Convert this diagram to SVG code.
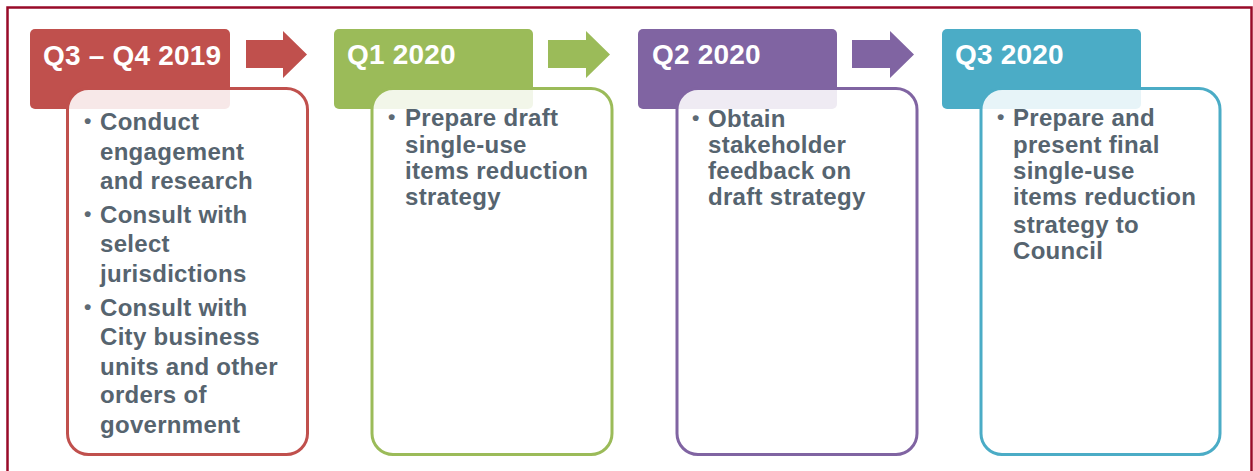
<svg xmlns="http://www.w3.org/2000/svg" width="1253" height="471" viewBox="0 0 1253 471">
<style>
.hd{font-family:"Liberation Sans",Arial,sans-serif;font-weight:bold;font-size:28px;fill:#ffffff;letter-spacing:0.2px}
.tx{font-family:"Liberation Sans",Arial,sans-serif;font-weight:bold;font-size:24px;fill:#56646f;letter-spacing:0.3px}
.bu{font-family:"Liberation Sans",Arial,sans-serif;font-weight:bold;font-size:21px;fill:#5e6b75}
.card{fill:#ffffff;fill-opacity:0.87;stroke-width:3}
</style>
<rect x="0" y="0" width="1253" height="471" fill="#ffffff"/>
<rect x="7.5" y="7.5" width="1244" height="480" fill="none" stroke="#980a28" stroke-width="2.5"/>
<g id="connectors">
<polygon points="246,40 283,40 283,31 307,54.5 283,78 283,68 246,68" fill="#c0504d"/>
<polygon points="548,40 586,40 586,31 610,54.5 586,78 586,68 548,68" fill="#9bbb59"/>
<polygon points="852,40 890,40 890,31 914,54.5 890,78 890,68 852,68" fill="#8064a2"/>
</g>
<g id="node1">
<rect x="30" y="29" width="200" height="80" rx="5" fill="#c0504d"/>
<text class="hd" x="43" y="65">Q3 – Q4 2019</text>
<rect class="card" x="67.5" y="88.5" width="240" height="366" rx="21" stroke="#c0504d"/>
<text class="tx" x="100" y="130">Conduct</text>
<text class="tx" x="100" y="160">engagement</text>
<text class="tx" x="100" y="189">and research</text>
<text class="tx" x="100" y="223">Consult with</text>
<text class="tx" x="100" y="252">select</text>
<text class="tx" x="100" y="282">jurisdictions</text>
<text class="tx" x="100" y="316">Consult with</text>
<text class="tx" x="100" y="345">City business</text>
<text class="tx" x="100" y="375">units and other</text>
<text class="tx" x="100" y="403">orders of</text>
<text class="tx" x="100" y="433">government</text>
<text class="bu" x="84" y="128">•</text>
<text class="bu" x="84" y="221">•</text>
<text class="bu" x="84" y="314">•</text>
</g>
<g id="node2">
<rect x="334" y="29" width="199" height="80" rx="5" fill="#9bbb59"/>
<text class="hd" x="347" y="64">Q1 2020</text>
<rect class="card" x="372" y="88.5" width="240" height="366" rx="21" stroke="#9bbb59"/>
<text class="bu" x="388" y="124">•</text>
<text class="tx" x="405" y="126">Prepare draft</text>
<text class="tx" x="405" y="153">single-use</text>
<text class="tx" x="405" y="179">items reduction</text>
<text class="tx" x="405" y="205">strategy</text>
</g>
<g id="node3">
<rect x="638" y="29" width="199" height="80" rx="5" fill="#8064a2"/>
<text class="hd" x="652" y="64">Q2 2020</text>
<rect class="card" x="677" y="88.5" width="240" height="366" rx="21" stroke="#8064a2"/>
<text class="bu" x="692" y="125">•</text>
<text class="tx" x="708" y="127">Obtain</text>
<text class="tx" x="708" y="153">stakeholder</text>
<text class="tx" x="708" y="179">feedback on</text>
<text class="tx" x="708" y="205">draft strategy</text>
</g>
<g id="node4">
<rect x="942" y="29" width="199" height="80" rx="5" fill="#4bacc6"/>
<text class="hd" x="955" y="64">Q3 2020</text>
<rect class="card" x="981" y="88.5" width="239" height="366" rx="21" stroke="#4bacc6"/>
<text class="bu" x="997" y="124">•</text>
<text class="tx" x="1013" y="126">Prepare and</text>
<text class="tx" x="1013" y="153">present final</text>
<text class="tx" x="1013" y="179">single-use</text>
<text class="tx" x="1013" y="205">items reduction</text>
<text class="tx" x="1013" y="233">strategy to</text>
<text class="tx" x="1013" y="259">Council</text>
</g>
</svg>
